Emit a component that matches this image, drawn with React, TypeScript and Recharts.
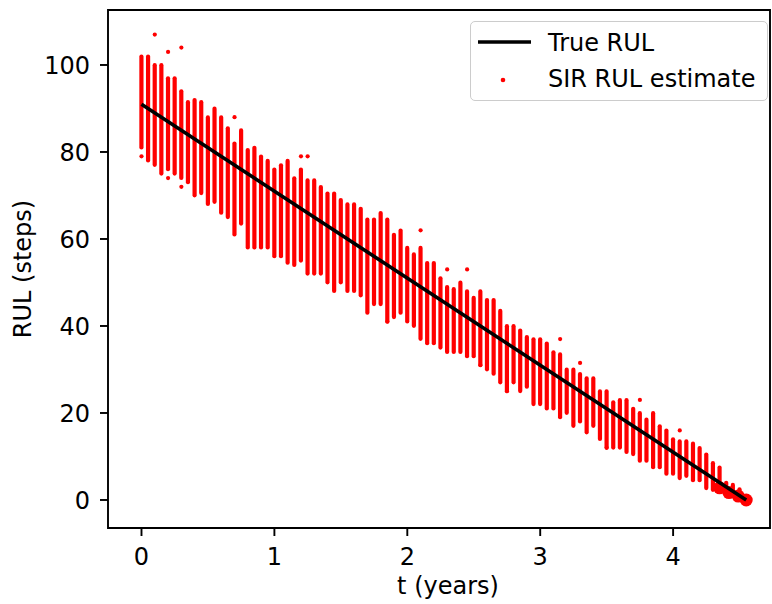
import { ComposedChart, Bar, Line, Scatter, XAxis, YAxis, Legend, ReferenceArea } from 'recharts';

// time steps (years), one particle column per step
const steps = [
  0, 0.05, 0.1, 0.15, 0.2, 0.25, 0.3, 0.35, 0.4, 0.45,
  0.5, 0.55, 0.6, 0.65, 0.7, 0.75, 0.8, 0.85, 0.9, 0.95,
  1, 1.05, 1.1, 1.15, 1.2, 1.25, 1.3, 1.35, 1.4, 1.45,
  1.5, 1.55, 1.6, 1.65, 1.7, 1.75, 1.8, 1.85, 1.9, 1.95,
  2, 2.05, 2.1, 2.15, 2.2, 2.25, 2.3, 2.35, 2.4, 2.45,
  2.5, 2.55, 2.6, 2.65, 2.7, 2.75, 2.8, 2.85, 2.9, 2.95,
  3, 3.05, 3.1, 3.15, 3.2, 3.25, 3.3, 3.35, 3.4, 3.45,
  3.5, 3.55, 3.6, 3.65, 3.7, 3.75, 3.8, 3.85, 3.9, 3.95,
  4, 4.05, 4.1, 4.15, 4.2, 4.25, 4.3, 4.35, 4.4, 4.45,
  4.5, 4.55,
];

// upper / lower edge of the SIR particle cloud at each step
const particleHigh = [
  102, 102, 100, 100, 97, 97, 94, 91.5, 92, 91.5,
  88, 90, 88, 85.5, 82, 85, 80.5, 81, 79, 78,
  76, 77, 78, 74, 76, 73.5, 73.5, 72, 70.5, 70.5,
  69, 68, 68, 67, 64.5, 64.5, 66, 64.5, 61, 62,
  58, 56.5, 58, 54.5, 54.5, 51, 49, 48.5, 50, 48,
  46.5, 48, 46, 46, 43.5, 40, 40, 39, 37.5, 37,
  37, 36, 34, 33.5, 30, 30, 29, 28, 28, 25,
  25, 22.5, 23, 23, 21, 20, 18.5, 20, 17, 16,
  14, 13.5, 13.5, 13, 12, 10.5, 8.5, 7.5, 4, 3.5,
  2.5, 0.7,
];
const particleLow = [
  81, 78, 77, 75, 76, 75, 74, 73, 70, 70.5,
  68, 68.5, 66, 65, 61, 63.5, 58, 58, 58, 58,
  56, 56, 54.5, 54, 55, 52, 52, 52, 50, 48,
  50, 48, 48, 47, 43, 45, 45, 41, 42, 43,
  41, 40, 37, 36, 36, 35, 34, 34, 34, 33,
  33, 31, 30, 29, 27, 25, 27, 25, 26, 22,
  22, 21, 21, 19, 20, 17, 18, 15.5, 17, 14,
  12, 12, 12, 11, 10.5, 9, 9, 7.5, 7.5, 6,
  6, 5, 5.5, 4.5, 4.5, 2.7, 2.3, 2, 1.5, 1,
  0.5, 0,
];

// stray particles outside the main cloud
const strayT = [0, 0.1, 0.2, 0.3, 0.2, 0.3, 0.7, 1.2, 1.25, 1.85, 2.1, 2.3, 2.45, 2.55, 2.75, 3.15, 3.3, 3.5, 3.75, 4.05];
const strayRul = [79, 107, 103, 104, 74, 72, 88, 79, 79, 41, 62, 53, 53, 31, 25, 37, 31.5, 12, 23, 16];

// heavy particles at end of life
const endT = [4.35, 4.42, 4.49, 4.55];
const endRul = [2.8, 1.7, 0.9, 0];

// true RUL line
const trueT = [0, 4.55];
const trueRul = [91, 0];

const xTicks = [0, 1, 2, 3, 4];
const yTicks = [0, 20, 40, 60, 80, 100];

const columns = steps.map((t, i) => ({ t, range: [particleLow[i], particleHigh[i]] }));
const strays = strayT.map((t, i) => ({ t, v: strayRul[i] }));
const ends = endT.map((t, i) => ({ t, v: endRul[i] }));
const trueLine = trueT.map((t, i) => ({ t, v: trueRul[i] }));

const RED = '#ff0000';
const FONT = 'DejaVu Sans, sans-serif';

// particle column: dot-wide streak centred on the step
const ColumnShape = (props: any) => {
  const { x, y, width, height } = props;
  const h = Math.abs(height);
  const top = height < 0 ? y + height : y;
  const cx = x + width / 2;
  return <rect x={cx - 2.1} y={top - 1.9} width={4.2} height={h + 3.8} rx={2.1} fill={RED} />;
};

const renderLegend = () => (
  <div
    style={{
      position: 'relative',
      width: 298,
      height: 80,
      boxSizing: 'border-box',
      border: '1.5px solid #cccccc',
      borderRadius: 5,
      background: 'rgba(255,255,255,0.8)',
    }}
  >
    <svg width={298} height={80} style={{ position: 'absolute', left: -1.5, top: -1.5 }}>
      <line x1={8} x2={61} y1={21} y2={21} stroke="#000" strokeWidth={3.6} />
      <circle cx={33} cy={59} r={2.3} fill={RED} />
      <text x={78} y={30} fontSize={24} fontFamily={FONT} fill="#000">True RUL</text>
      <text x={78} y={66} fontSize={24} fontFamily={FONT} fill="#000">SIR RUL estimate</text>
    </svg>
  </div>
);

export default function App() {
  const extra: any = { zIndex: 1000 };
  return (
    <div style={{ position: 'absolute', left: 0, top: 0, background: '#fff' }}>
      <ComposedChart width={772} height={604} data={columns} margin={{ top: 10, right: 2, bottom: 0, left: 0 }}>
        <XAxis
          dataKey="t"
          type="number"
          domain={[-0.252, 4.729]}
          allowDataOverflow
          ticks={xTicks}
          height={76}
          axisLine={false}
          tickSize={8}
          tickMargin={12}
          tickLine={{ stroke: '#000', strokeWidth: 1.9 }}
          tick={{ fill: '#000', fontSize: 24, fontFamily: FONT }}
          label={{
            content: ({ viewBox }: any) => (
              <text x={viewBox.x + viewBox.width / 2 + 9} y={594} textAnchor="middle" fontSize={24} fontFamily={FONT} fill="#000">
                t (years)
              </text>
            ),
          }}
        />
        <YAxis
          type="number"
          domain={[-6.44, 112.64]}
          allowDataOverflow
          ticks={yTicks}
          width={108}
          axisLine={false}
          tickSize={8}
          tickMargin={10}
          tickLine={{ stroke: '#000', strokeWidth: 1.9 }}
          tick={{ fill: '#000', fontSize: 24, fontFamily: FONT }}
          label={{
            content: ({ viewBox }: any) => {
              const cy = viewBox.y + viewBox.height / 2;
              return (
                <text x={31} y={cy} transform={`rotate(-90, 31, ${cy})`} textAnchor="middle" fontSize={24} fontFamily={FONT} fill="#000">
                  RUL (steps)
                </text>
              );
            },
          }}
        />
        <Bar dataKey="range" barSize={4} shape={ColumnShape} isAnimationActive={false} legendType="none" />
        <Scatter data={strays} dataKey="v" isAnimationActive={false} legendType="none"
          shape={(p: any) => <circle cx={p.cx} cy={p.cy} r={2.1} fill={RED} />} />
        <Scatter data={ends} dataKey="v" isAnimationActive={false} legendType="none"
          shape={(p: any) => <circle cx={p.cx} cy={p.cy} r={6.5} fill={RED} />} />
        <Line data={trueLine} dataKey="v" stroke="#000" strokeWidth={3.6} dot={false} isAnimationActive={false} legendType="none" {...extra} />
        <ReferenceArea x1={-0.252} x2={4.729} y1={-6.44} y2={112.64} fill="none" stroke="#000" strokeWidth={1.9} ifOverflow="visible" {...extra} />
        <Legend
          layout="vertical"
          align="center"
          verticalAlign="middle"
          content={renderLegend}
          wrapperStyle={{ left: 470, top: 21, width: 298, height: 80 }}
        />
      </ComposedChart>
    </div>
  );
}
